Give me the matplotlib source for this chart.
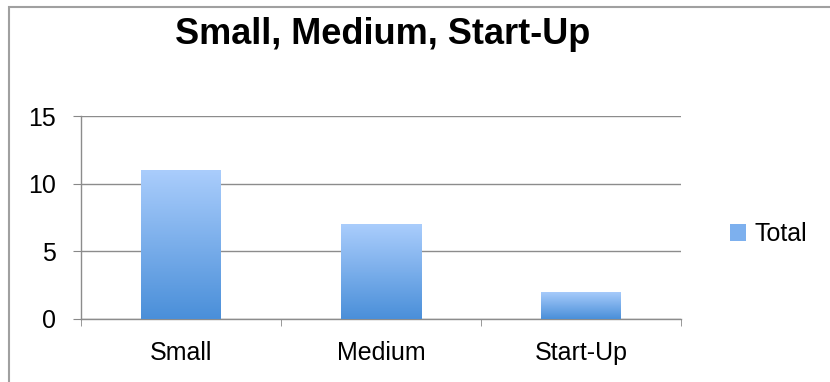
import numpy as np
import matplotlib
matplotlib.use("Agg")
import matplotlib.pyplot as plt
from matplotlib.colors import LinearSegmentedColormap
from matplotlib.patches import Rectangle, Patch

categories = ["Small", "Medium", "Start-Up"]
totals = [11, 7, 2]
y_ticks = [0, 5, 10, 15]
series_name = "Total"

plt.rcParams["font.family"] = ["Liberation Sans", "DejaVu Sans"]

fig = plt.figure(figsize=(8.3, 3.82), dpi=100)
ax = fig.add_axes([81 / 830, 1 - 319 / 382, 600 / 830, 203 / 382])

# outer chart border (only top/left visible in the original crop)
fig.patches.append(Rectangle((9 / 830, -0.1), 1.2, 1 - 7 / 382 + 0.1,
                             transform=fig.transFigure, fill=False,
                             edgecolor="#a0a0a0", linewidth=1.5))

grad = LinearSegmentedColormap.from_list("bar", ["#4a8fd9", "#aacdfc"])
x = np.arange(len(categories))
bars = ax.bar(x, totals, width=0.4, color="none", zorder=3)
g = np.linspace(0, 1, 256).reshape(-1, 1)
for b in bars:
    bx, by = b.get_x(), b.get_y()
    w, h = b.get_width(), b.get_height()
    im = ax.imshow(g, cmap=grad, origin="lower", aspect="auto",
                   extent=[bx, bx + w, by, by + h], zorder=3)
    im.set_clip_path(b)

ax.set_xlim(-0.5, len(categories) - 0.5)
ax.set_ylim(0, 15)
ax.set_yticks(y_ticks)
ax.set_xticks(x)
ax.set_xticklabels(categories)
ax.set_xticks(np.arange(len(categories) + 1) - 0.5, minor=True)
ax.tick_params(axis="x", which="major", length=0, pad=16, labelsize=18)
ax.tick_params(axis="x", which="minor", length=5, color="#888888", direction="out")
ax.tick_params(axis="y", length=6, color="#888888", pad=12, labelsize=18)

ax.grid(axis="y", color="#8c8c8c", linewidth=1, zorder=0)
ax.set_axisbelow(True)
for s in ["top", "right"]:
    ax.spines[s].set_visible(False)
for s in ["left", "bottom"]:
    ax.spines[s].set_color("#8c8c8c")
    ax.spines[s].set_linewidth(1)

fig.text(383 / 830, 1 - 35 / 382, "Small, Medium, Start-Up", ha="center",
         va="center", fontsize=26, fontweight="bold")

handle = Patch(facecolor="#7db0ee", edgecolor="none")
fig.legend([handle], [series_name], loc="center left",
           bbox_to_anchor=(707 / 830, 1 - 234 / 382), frameon=False,
           fontsize=18, handlelength=0.65, handleheight=0.65, handletextpad=0.35)

fig.savefig("out.png", dpi=100)
